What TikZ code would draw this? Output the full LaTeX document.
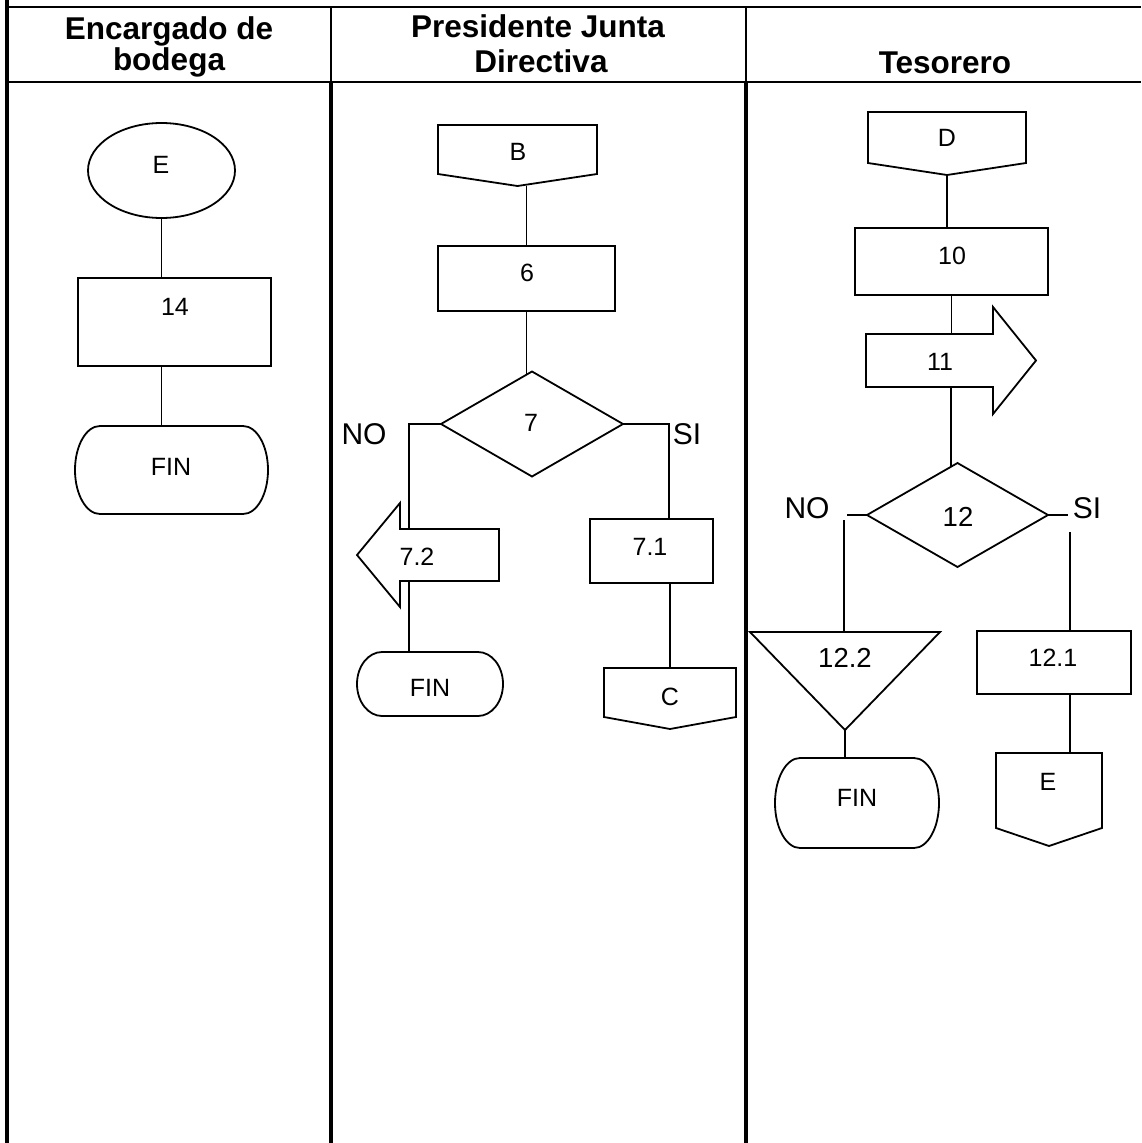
\documentclass[tikz,border=0pt]{standalone}
\usepackage{fontspec}
\setmainfont{Liberation Sans}
\usetikzlibrary{shapes.geometric,backgrounds}
\newcommand\termpath[2]{%
  \draw[shpline] ([xshift=25pt]#1.north west) -- ([xshift=-25pt]#1.north east)
    arc[start angle=90,end angle=-90,x radius=25pt,y radius=#2pt]
    -- ([xshift=25pt]#1.south west)
    arc[start angle=270,end angle=90,x radius=25pt,y radius=#2pt] -- cycle;}
\newcommand\offpagepath[2]{%
  \coordinate (#1pt) at ([yshift=-#2pt]#1.south);
  \draw[shpline] (#1.south west) -- (#1.north west) -- (#1.north east) -- (#1.south east) -- (#1pt) -- cycle;}
\begin{document}
\begin{tikzpicture}[x=1pt,y=-1pt,
  shp/.style={draw, line width=1.8pt, fill=white, inner sep=0pt, outer sep=0pt},
  shpline/.style={draw, line width=1.8pt, fill=white, line join=miter},
  ghost/.style={inner sep=0pt, outer sep=0pt, draw=none},
  lnk/.style={line width=1.8pt},
  rulethick/.style={line width=4pt},
  rulethin/.style={line width=2.4pt},
  txt/.style={inner sep=0pt, font=\fontsize{25}{30}\selectfont},
  bigtxt/.style={inner sep=0pt, font=\fontsize{27.5}{33}\selectfont},
  branch/.style={inner sep=0pt, font=\fontsize{30}{36}\selectfont},
  head/.style={inner sep=0pt, anchor=base, font=\bfseries\fontsize{31.5}{38}\selectfont}]
\useasboundingbox (0,0) rectangle (1141,1143);

% table frame
\draw[rulethick] (7,0) -- (7,1143);
\draw[rulethin] (7,7) -- (1141,7);
\draw[rulethin] (7,82) -- (1141,82);
\draw[rulethin] (331,7) -- (331,82);
\draw[rulethin] (746,7) -- (746,82);
\draw[rulethick] (331,82) -- (331,1143);
\draw[rulethick] (746,82) -- (746,1143);

% headers
\node[head] (h1a) at (169,39) {Encargado de};
\node[head] (h1b) at (169,70) {bodega};
\node[head] (h2a) at (538,37) {Presidente Junta};
\node[head] (h2b) at (541,72) {Directiva};
\node[head] (h3) at (945,73) {Tesorero};

% column 1
\node[shp, ellipse, minimum width=147pt, minimum height=95pt] (e1) at (161.5,170.5) {};
\node[shp, rectangle, minimum width=193pt, minimum height=88pt] (r14) at (174.5,322) {};
\node[ghost, minimum width=193pt, minimum height=88pt] (fin1) at (171.5,470) {};
\termpath{fin1}{44}

% column 2
\node[ghost, minimum width=159pt, minimum height=49pt] (b) at (517.5,149.5) {};
\offpagepath{b}{12}
\node[shp, rectangle, minimum width=177pt, minimum height=65pt] (r6) at (526.5,278.5) {};
\node[shp, diamond, minimum width=182pt, minimum height=105pt] (d7) at (532,424) {};
\coordinate (d7e) at ([yshift=-6pt]d7.north);
\coordinate (n7) at (409,424);
\coordinate (s7) at (669,424);
\node[ghost, minimum width=99pt, minimum height=52pt] (a72) at (449.5,555) {};
\draw[shpline] (a72.north east) -- (a72.north west) -- ++(0pt,26pt) -- ([xshift=-43pt]a72.west)
  -- ([yshift=-26pt]a72.south west) -- (a72.south west) -- (a72.south east) -- cycle;
\node[shp, rectangle, minimum width=123pt, minimum height=64pt] (r71) at (651.5,551) {};
\node[ghost, minimum width=146pt, minimum height=64pt] (fin2) at (430,684) {};
\termpath{fin2}{32}
\node[ghost, minimum width=132pt, minimum height=49pt] (c) at (670,692.5) {};
\offpagepath{c}{12}

% column 3
\node[ghost, minimum width=158pt, minimum height=51pt] (d) at (947,137.5) {};
\offpagepath{d}{12}
\node[shp, rectangle, minimum width=193pt, minimum height=67pt] (r10) at (951.5,261.5) {};
\node[ghost, minimum width=127pt, minimum height=53pt] (a11) at (929.5,360.5) {};
\draw[shpline] (a11.north west) -- (a11.north east) -- ++(0pt,27pt) -- ([xshift=43pt]a11.east)
  -- ([yshift=-27pt]a11.south east) -- (a11.south east) -- (a11.south west) -- cycle;
\coordinate (c11) at ([xshift=21.5pt]a11.south);
\node[shp, diamond, minimum width=181pt, minimum height=104pt] (d12) at (957.5,515) {};
\coordinate (c11e) at ([yshift=-6pt]d12.north);
\coordinate (no12) at (847,515);
\coordinate (no12v) at (844,520);
\coordinate (si12) at (1068,515);
\coordinate (si12v) at (1070,532);
\node[ghost, minimum width=190pt, minimum height=98pt] (tri) at (845,681) {};
\draw[shpline] (tri.north west) -- (tri.north east) -- (tri.south) -- cycle;
\node[ghost, minimum width=164pt, minimum height=90pt] (fin3) at (857,803) {};
\termpath{fin3}{45}
\node[shp, rectangle, minimum width=154pt, minimum height=63pt] (r121) at (1054,662.5) {};
\coordinate (c121) at ([xshift=16pt]r121.south);
\node[ghost, minimum width=106pt, minimum height=75pt] (e2) at (1049,790.5) {};
\offpagepath{e2}{18}

% connectors
\begin{pgfonlayer}{background}
\draw[lnk] (e1.south) -- (e1.south |- r14.north);
\draw[lnk] (e1.south |- r14.south) -- (e1.south |- fin1.north);
\draw[lnk] (r6.north) -- (r6.north |- bpt);
\draw[lnk] (r6.south) -- (r6.south |- d7e);
\draw[lnk] (d7.west) -- (n7) -- (n7 |- fin2.north);
\draw[lnk] (d7.east) -- (s7) -- (s7 |- r71.north);
\draw[lnk] (c.north) -- (c.north |- r71.south);
\draw[lnk] (dpt) -- (dpt |- r10.north);
\draw[lnk] (r10.south) -- (r10.south |- a11.north);
\draw[lnk] (c11) -- (c11 |- c11e);
\draw[lnk] (d12.west) -- (no12);
\draw[lnk] (no12v) -- (no12v |- tri.north);
\draw[lnk] (d12.east) -- (si12);
\draw[lnk] (si12v) -- (si12v |- r121.north);
\draw[lnk] (tri.south) -- (tri.south |- fin3.north);
\draw[lnk] (c121) -- (c121 |- e2.north);
\end{pgfonlayer}

% labels
\node[txt] (lE1) at (161,165) {E};
\node[txt] (l14) at (175,307) {14};
\node[txt] (lF1) at (171,467) {FIN};
\node[txt] (lB) at (518,152) {B};
\node[txt] (l6) at (527,273) {6};
\node[txt] (l7) at (531,423) {7};
\node[branch] (lno1) at (364,434) {NO};
\node[branch] (lsi1) at (687,434) {SI};
\node[txt] (l72) at (417,557) {7.2};
\node[txt] (l71) at (650,547) {7.1};
\node[txt] (lF2) at (430,688) {FIN};
\node[txt] (lC) at (670,697) {C};
\node[txt] (lD) at (947,138) {D};
\node[txt] (l10) at (952,256) {10};
\node[txt] (l11) at (940,362) {11};
\node[bigtxt] (l12) at (958,517) {12};
\node[branch] (lno2) at (807,508) {NO};
\node[branch] (lsi2) at (1087,508) {SI};
\node[bigtxt] (l122) at (845,658) {12.2};
\node[txt] (l121) at (1053,658) {12.1};
\node[txt] (lF3) at (857,798) {FIN};
\node[txt] (lE2) at (1048,782) {E};
\end{tikzpicture}
\end{document}
